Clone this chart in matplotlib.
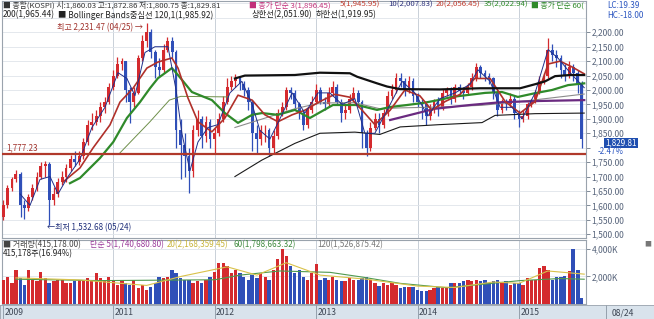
import numpy as np
import pandas as pd
import matplotlib
matplotlib.use('Agg')
import matplotlib.pyplot as plt
import matplotlib.dates as mdates
from matplotlib.ticker import FixedLocator, FuncFormatter

plt.rcParams['font.family'] = ['Noto Sans CJK KR', 'DejaVu Sans']

W, H = 654, 319

# ---------------- data (semi-monthly candles, KOSPI) ----------------
candle_start = '2009-12-01'
open_first = 1560
close = [1600, 1660, 1690, 1710, 1600, 1590, 1630, 1660, 1700, 1735,
         1745, 1620, 1640, 1680, 1700, 1730, 1760, 1750, 1770, 1820,
         1880, 1890, 1910, 1940, 1960, 2010, 2050, 2090, 2100, 2000,
         1960, 1990, 2110, 2170, 2200, 2130, 2080, 2070, 2140, 2170,
         2130, 1860, 1810, 1770, 1720, 1860, 1900, 1840, 1890, 1830,
         1850, 1900, 1960, 2010, 2030, 2040, 2020, 2000, 1960, 1850,
         1830, 1860, 1860, 1800, 1840, 1920, 1940, 2000, 1990, 1950,
         1920, 1880, 1930, 1960, 2000, 1960, 1950, 1990, 2010, 1960,
         1920, 1930, 1970, 1990, 1960, 1850, 1800, 1870, 1900, 1880,
         1920, 1980, 2000, 2040, 2030, 2000, 2030, 1980, 1960, 1950,
         1910, 1930, 1960, 1940, 1990, 2000, 1970, 2010, 1995, 1990,
         2010, 2040, 2080, 2060, 2050, 2040, 1990, 1930, 1960, 1950,
         1970, 1920, 1900, 1910, 1950, 1960, 1990, 2030, 2050, 2140,
         2120, 2110, 2070, 2050, 2080, 2060, 2020, 1830]
high = [1620, 1670, 1700, 1723, 1715, 1620, 1640, 1675, 1715, 1750,
        1755, 1750, 1665, 1695, 1720, 1745, 1775, 1790, 1790, 1835,
        1895, 1920, 1930, 1960, 1975, 2025, 2070, 2115, 2110, 2100,
        2010, 2010, 2120, 2190, 2231, 2210, 2140, 2110, 2160, 2185,
        2185, 2140, 1900, 1850, 1800, 1880, 1930, 1910, 1910, 1900,
        1870, 1920, 1980, 2040, 2050, 2055, 2050, 2030, 2010, 1965,
        1880, 1880, 1880, 1870, 1860, 1935, 1960, 2010, 2010, 2000,
        1960, 1930, 1940, 1980, 2020, 2010, 1975, 2010, 2030, 2020,
        1970, 1950, 1985, 2010, 2000, 1965, 1860, 1890, 1920, 1920,
        1935, 1995, 2020, 2060, 2060, 2040, 2050, 2040, 1990, 1970,
        1955, 1950, 1970, 1975, 2005, 2010, 2010, 2020, 2020, 2010,
        2025, 2060, 2093, 2085, 2070, 2060, 2045, 2000, 1970, 1970,
        1990, 1980, 1930, 1930, 1960, 1970, 2000, 2050, 2060, 2180,
        2160, 2140, 2120, 2090, 2100, 2090, 2070, 2030]
low = [1550, 1590, 1650, 1680, 1560, 1552, 1580, 1620, 1650, 1690,
       1700, 1533, 1600, 1630, 1670, 1680, 1720, 1735, 1740, 1760,
       1810, 1860, 1880, 1890, 1920, 1950, 2000, 2040, 2070, 1960,
       1886, 1940, 1985, 2100, 2150, 2110, 2040, 2050, 2060, 2130,
       2110, 1800, 1690, 1700, 1644, 1700, 1840, 1800, 1820, 1800,
       1780, 1840, 1890, 1950, 2000, 2010, 2000, 1980, 1930, 1790,
       1780, 1810, 1820, 1770, 1780, 1830, 1910, 1930, 1970, 1930,
       1900, 1860, 1870, 1920, 1950, 1950, 1930, 1940, 1980, 1950,
       1890, 1900, 1920, 1960, 1940, 1800, 1770, 1790, 1860, 1850,
       1870, 1910, 1970, 1990, 2010, 1980, 1990, 1960, 1940, 1900,
       1880, 1895, 1920, 1910, 1930, 1980, 1950, 1960, 1980, 1970,
       1985, 2000, 2030, 2040, 2030, 2020, 1970, 1910, 1920, 1930,
       1940, 1900, 1872, 1890, 1900, 1940, 1955, 1985, 2020, 2040,
       2100, 2080, 2040, 2030, 2040, 2030, 1990, 1800]
volume_k = [1760, 1980, 1550, 2480, 1870, 1400, 2480, 1760, 1640, 2360,
            1880, 1520, 1640, 1760, 1760, 1520, 1520, 1640, 1760, 1760,
            1880, 1760, 2240, 1880, 1760, 1980, 1760, 1400, 1640, 1520,
            1400, 1760, 1180, 1400, 1040, 1260, 1520, 1980, 1880, 1980,
            2480, 2240, 1880, 1760, 1760, 1520, 1640, 1520, 1760, 1980,
            2360, 3000, 3000, 2740, 2240, 2480, 2240, 1980, 1760, 2120,
            1880, 2240, 1980, 1760, 2480, 3240, 3960, 3480, 2740, 2240,
            2480, 1980, 1760, 2240, 2870, 1760, 1880, 1760, 1980, 1760,
            1640, 1640, 1880, 1760, 1760, 1880, 1980, 1760, 1520, 1280,
            1520, 1400, 1520, 1400, 1180, 1260, 1260, 1260, 1040, 920,
            920, 1040, 1180, 1260, 1180, 1260, 1520, 1520, 1520, 1640,
            1760, 1640, 1760, 1640, 1760, 1520, 1640, 1760, 1520, 1640,
            1400, 1520, 1520, 1400, 1880, 1760, 1760, 2600, 2740, 2480,
            1760, 1980, 1980, 2000, 2400, 4000, 2500, 420]

# moving-average / band lines
bb_upper_dates = ['2012-03-14', '2012-04-19', '2012-10-16', '2013-01-14', '2013-05-02',
                  '2013-05-28', '2013-08-08', '2013-09-13', '2013-10-30', '2014-03-22',
                  '2014-08-13', '2015-01-05', '2015-02-28', '2015-04-05', '2015-05-11',
                  '2015-07-04', '2015-08-24']
bb_upper_vals = [2040, 2050, 2052, 2060, 2058, 2046, 2023, 2012, 2003, 2002,
                 2006, 2006, 2020, 2030, 2048, 2052, 2052]
bb_lower_dates = ['2012-03-14', '2012-06-19', '2012-10-16', '2013-01-14', '2013-05-20',
                  '2013-08-18', '2013-10-30', '2014-03-22', '2014-08-21', '2014-10-07',
                  '2015-02-28', '2015-08-24']
bb_lower_vals = [1700, 1757, 1815, 1850, 1854, 1846, 1872, 1880, 1887, 1912, 1918, 1920]
bb_mid_dates = ['2012-03-14', '2012-10-16', '2013-01-14', '2013-05-20', '2013-08-18',
                '2013-10-30', '2014-03-22', '2014-08-21', '2015-01-05', '2015-04-05',
                '2015-08-24']
bb_mid_vals = [1870, 1935, 1955, 1956, 1935, 1938, 1941, 1947, 1960, 1970, 1986]

ma35_dates = ['2010-07-29', '2010-09-03', '2010-11-14', '2011-01-01', '2011-02-19',
              '2011-04-07', '2011-05-13', '2011-06-11', '2011-07-31', '2011-08-22',
              '2011-10-11', '2011-12-22', '2012-02-07', '2012-03-25', '2012-05-15',
              '2012-06-19', '2012-08-16', '2012-10-16', '2012-12-09', '2013-03-02',
              '2013-05-28', '2013-08-08', '2013-09-24', '2013-11-24', '2014-01-20',
              '2014-03-22', '2014-05-05', '2014-09-01', '2014-11-01', '2014-12-28',
              '2015-02-28', '2015-04-30', '2015-06-27', '2015-08-24']
ma35_vals = [1677, 1695, 1764, 1820, 1903, 1958, 2006, 2041, 2076, 2052,
             1993, 1965, 1920, 1886, 1914, 1920, 1914, 1931, 1903, 1948,
             1948, 1931, 1941, 1948, 1955, 1966, 1976, 1990, 1993, 1976,
             1989, 2000, 2017, 2023]

ma120_dates = ['2011-01-25', '2011-05-13', '2011-07-22', '2011-09-01', '2012-02-20']
ma120_vals = [1782, 1890, 1965, 1978, 1976]

ma200_dates = ['2013-09-24', '2014-03-04', '2014-07-09', '2014-11-01', '2015-03-18', '2015-08-24']
ma200_vals = [1896, 1935, 1948, 1958, 1962, 1965]

ma20_dates = ['2010-07-04', '2010-09-03', '2010-10-20', '2010-12-20', '2011-01-25',
              '2011-03-13', '2011-05-02', '2011-06-11', '2011-07-31', '2011-08-22',
              '2011-09-27', '2011-11-02', '2011-12-22', '2012-02-07', '2012-03-25',
              '2012-05-15', '2012-06-30', '2012-08-16', '2012-10-06', '2012-11-21',
              '2013-01-14', '2013-03-09', '2013-05-02', '2013-06-15', '2013-07-31',
              '2013-09-24', '2013-11-16', '2014-01-09', '2014-02-21', '2014-04-10',
              '2014-06-03', '2014-07-26', '2014-09-19', '2014-11-12', '2015-01-05',
              '2015-02-28', '2015-04-16', '2015-05-29', '2015-07-11', '2015-08-24']
ma20_vals = [1681, 1730, 1799, 1879, 1958, 2006, 2076, 2097, 2111, 2076,
             1972, 1890, 1855, 1903, 1982, 1965, 1914, 1890, 1914, 1930,
             1960, 1985, 1975, 1930, 1880, 1930, 2000, 1980, 1930, 1960,
             1985, 2040, 2040, 1960, 1920, 1960, 2090, 2100, 2080, 2056]

ma10_dates = ['2010-01-30', '2010-03-07', '2010-04-12', '2010-05-18', '2010-06-16',
              '2010-07-22', '2010-09-03', '2010-10-16', '2010-12-02', '2011-01-18',
              '2011-02-19', '2011-03-20', '2011-04-25', '2011-05-31', '2011-07-17',
              '2011-08-15', '2011-09-05', '2011-10-04', '2011-11-02', '2011-12-08',
              '2012-01-13', '2012-02-25', '2012-04-08', '2012-05-15', '2012-06-12',
              '2012-07-18', '2012-08-23', '2012-10-06', '2012-11-21', '2013-01-07',
              '2013-02-19', '2013-04-04', '2013-05-20', '2013-06-25', '2013-07-31',
              '2013-09-24', '2013-11-06', '2013-12-22', '2014-02-07', '2014-03-22',
              '2014-05-16', '2014-07-09', '2014-08-06', '2014-09-19', '2014-10-25',
              '2014-12-07', '2015-01-12', '2015-02-28', '2015-04-16', '2015-05-22',
              '2015-07-04', '2015-08-24']
ma10_vals = [1640, 1600, 1690, 1700, 1640, 1700, 1760, 1870, 1940, 2060,
             2040, 1980, 2130, 2150, 2150, 2000, 1850, 1720, 1820, 1870,
             1880, 1990, 2030, 1950, 1860, 1830, 1900, 1990, 1920, 1990,
             1990, 1950, 1970, 1850, 1850, 1950, 2030, 1990, 1910, 1970,
             1990, 2020, 2070, 2030, 1940, 1940, 1900, 1990, 2140, 2110,
             2060, 2008]

vol_ma60_dates = ['2010-01-15', '2010-11-14', '2012-01-01', '2012-04-02', '2012-08-23',
                  '2013-02-19', '2013-06-18', '2013-10-30', '2014-04-17', '2015-01-05',
                  '2015-05-29', '2015-08-24']
vol_ma60_vals = [1800, 1700, 1760, 2100, 2400, 2300, 1950, 1500, 1180, 1700, 1850, 1800]
vol_ma20_dates = ['2010-01-15', '2010-09-01', '2011-05-01', '2011-09-01', '2012-02-15',
                  '2012-06-01', '2012-09-15', '2013-01-15', '2013-07-01', '2014-01-01',
                  '2014-05-15', '2014-10-01', '2015-01-01', '2015-04-15', '2015-08-24']
vol_ma20_vals = [1900, 1750, 1350, 2000, 2700, 2100, 3000, 2100, 1800, 1300,
                 1200, 1600, 1500, 2400, 2170]

price_ticks = [1500, 1550, 1600, 1650, 1700, 1750, 1800, 1850, 1900, 1950,
               2000, 2050, 2100, 2150, 2200]
hidden_price_labels = [1800]
support_level = 1777.23
last_price = '1,829.81'
last_change = '-2.47%'
year_labels = ['2009', '2011', '2012', '2013', '2014', '2015']
year_label_dates = ['2009-12-01', '2011-01-01', '2012-01-01', '2013-01-01', '2014-01-01', '2015-01-01']

header_row1 = [('■ 종합(KOSPI) 시:1,860.03 고:1,872.86 저:1,800.75 종:1,829.81', '#333333', 3),
               ('■ 종가 단순 3(1,896.45)', '#c2307a', 249),
               ('5(1,945.95)', '#c0392b', 340),
               ('10(2,007.83)', '#2b2f7a', 388),
               ('20(2,056.45)', '#c0392b', 432),
               ('35(2,022.94)', '#2f8a2a', 475),
               ('■ 종가 단순 60(', '#2f8a2a', 522)]
header_row2 = [('200(1,965.44)', '#222222', 3),
               ('■ Bollinger Bands중심선 120,1(1,985.92)', '#222222', 57),
               ('상한선(2,051.90)', '#222222', 252),
               ('하한선(1,919.95)', '#222222', 297)]
volume_row1 = [('■ 거래량(415,178.00)', '#444444', 3),
               ('단순 5(1,740,680.80)', '#9a3a9a', 90),
               ('20(2,168,359.45)', '#c8b43a', 166),
               ('60(1,798,663.32)', '#3f8a3f', 233),
               ('120(1,526,875.42)', '#777777', 317)]

# ---------------- figure ----------------
fig = plt.figure(figsize=(W / 100, H / 100), dpi=100)
fig.patch.set_facecolor('white')
renderer = fig.canvas.get_renderer()


def rect(x0, y0, x1, y1):
    return [x0 / W, 1 - y1 / H, (x1 - x0) / W, (y1 - y0) / H]


def d2n(lst):
    return mdates.date2num(pd.to_datetime(lst).to_pydatetime())


base = mdates.date2num(pd.Timestamp('2011-01-01').to_pydatetime())
px_day = 3.6014
xlim = (base + (2 - 113.3) * px_day, base + (586 - 113.3) * px_day)

ax = fig.add_axes(rect(2, 1, 586, 238))
axv = fig.add_axes(rect(2, 240, 586, 304))
axb = fig.add_axes(rect(0, 305, 654, 319))

close_a = np.array(close, float)
high_a = np.array(high, float)
low_a = np.array(low, float)
opens = np.r_[open_first, close_a[:-1]]
dates = pd.date_range(candle_start, periods=len(close_a), freq='SMS')
xd = mdates.date2num(dates.to_pydatetime())
up = close_a >= opens
RED, BLUE = '#d42a2e', '#2f4fb8'
cols = np.where(up, RED, BLUE)

grid_c = '#dfe4ea'
year_lines = d2n(['2011-01-01', '2012-01-01', '2013-01-01', '2014-01-01', '2015-01-01'])

for a in (ax, axv):
    a.set_xlim(*xlim)
    a.set_facecolor('white')
    for xx in year_lines:
        a.axvline(xx, color='#c9d0d8', lw=0.7, zorder=0)
    a.tick_params(axis='x', which='both', bottom=False, labelbottom=False)
    for s in a.spines.values():
        s.set_color('#9aa3ad')
        s.set_linewidth(0.8)

# price panel
ax.set_ylim(1487, 2308.5)
for v in np.arange(1500, 2301, 50):
    ax.axhline(v, color=grid_c, lw=0.6, zorder=0)

ax.vlines(xd, low_a, high_a, colors=cols, lw=0.9, zorder=3)
body = np.maximum(np.abs(close_a - opens), 3)
ax.bar(xd, body, bottom=np.minimum(opens, close_a), width=10, color=cols, zorder=3, lw=0)

ax.plot(d2n(ma120_dates), ma120_vals, color='#6e8f4a', lw=0.7, zorder=4)
ax.plot(d2n(bb_mid_dates), bb_mid_vals, color='#8c8c8c', lw=0.8, zorder=4)
ax.plot(d2n(bb_lower_dates), bb_lower_vals, color='#1a1a1a', lw=0.8, zorder=4)
ax.plot(d2n(bb_upper_dates), bb_upper_vals, color='#111111', lw=1.6, zorder=5)
ax.plot(d2n(ma200_dates), ma200_vals, color='#6a2a80', lw=1.6, zorder=4)
ax.plot(d2n(ma35_dates), ma35_vals, color='#2f8a2a', lw=1.6, zorder=4)
ax.plot(d2n(ma20_dates), ma20_vals, color='#b0302a', lw=1.2, zorder=4)
ax.plot(d2n(ma10_dates), ma10_vals, color='#1f2f8a', lw=0.7, zorder=4)

ax.axhline(support_level, color='#b0392b', lw=1.6, zorder=6)
ax.text(xlim[0] + 4 * px_day, support_level + 8, f'{support_level:,.2f}',
        color='#a0302a', fontsize=5.8, va='bottom', ha='left', zorder=7)

i_hi = int(np.argmax(high_a))
i_lo = int(np.argmin(low_a))
ax.text(xd[i_hi] - 4 * px_day, 2215, '최고 2,231.47 (04/25) →',
        color='#a0302a', fontsize=5.8, ha='right', va='center', zorder=7)
ax.text(xd[i_lo] - 2 * px_day, 1522, '←최저 1,532.68 (05/24)',
        color='#1f2f7a', fontsize=5.8, ha='left', va='center', zorder=7)

ax.yaxis.tick_right()
ax.yaxis.set_major_locator(FixedLocator(price_ticks))
ax.yaxis.set_major_formatter(FuncFormatter(
    lambda v, p: '' if round(v) in hidden_price_labels else f'{v:,.2f}'))
ax.tick_params(axis='y', direction='out', length=3, width=0.6, color='#6b7787',
               labelsize=6.1, labelcolor='#56637a', pad=1)

# volume panel
axv.set_ylim(0, 4650)
for v in (2000, 4000):
    axv.axhline(v, color=grid_c, lw=0.6, zorder=0)
axv.bar(xd, volume_k, width=12, color=cols, lw=0, zorder=3)
axv.plot(d2n(vol_ma60_dates), vol_ma60_vals, color='#4f9a4f', lw=0.8, zorder=4)
axv.plot(d2n(vol_ma20_dates), vol_ma20_vals, color='#d9c24a', lw=0.8, zorder=4)
axv.yaxis.tick_right()
axv.yaxis.set_major_locator(FixedLocator([2000, 4000]))
axv.yaxis.set_major_formatter(FuncFormatter(lambda v, p: f'{v:,.0f}K'))
axv.tick_params(axis='y', direction='out', length=3, width=0.6, color='#6b7787',
                labelsize=6.1, labelcolor='#56637a', pad=1)

# bottom date band
axb.set_facecolor('#d9e3ec')
axb.set_xlim(0, W)
axb.set_ylim(0, 1)
axb.set_xticks([])
axb.set_yticks([])
for s in axb.spines.values():
    s.set_color('#9aa3ad')
    s.set_linewidth(0.6)
for lab, dt in zip(year_labels, year_label_dates):
    px = 113.3 + (d2n([dt])[0] - base) / px_day
    px = max(px, 2)
    axb.plot([px, px], [0, 1], color='#8a96a3', lw=0.6)
    axb.text(px + 1.5, 0.45, lab, fontsize=6.2, color='#3d4654', va='center', ha='left')
axb.plot([606, 606], [0, 1], color='#8a96a3', lw=0.6)
axb.text(612, 0.45, '08/24', fontsize=6.2, color='#3d4654', va='center', ha='left')


# header texts
def ftext(x, y, s, c, size=5.6, **kw):
    return fig.text(x / W, 1 - y / H, s, color=c, fontsize=size, va='center', ha='left', **kw)


def row(y, items, size):
    prev_end = -1e9
    for s, c, xr in items:
        x = max(xr, prev_end + 3)
        t = ftext(x, y, s, c, size=size)
        prev_end = x + t.get_window_extent(renderer).width


row(5, header_row1, 5.6)
row(15, header_row2, 6.0)
row(245, volume_row1, 5.8)
ftext(3, 254, '415,178주(16.94%)', '#222222', size=5.8)
ftext(607, 5, 'LC:19.39', '#2a55c0', size=5.8)
ftext(607, 15, 'HC:-18.00', '#2a55c0', size=5.8)

# current price box
fig.text(621 / W, 1 - 143 / H, last_price, color='white', fontsize=5.8, ha='center', va='center',
         bbox=dict(boxstyle='square,pad=0.1', fc='#1f4fb0', ec='none'))
ftext(598, 152, last_change, '#2a55c0', size=5.8)
fig.text(648 / W, 1 - 244 / H, '■', color='#777777', fontsize=5, ha='center', va='center')

fig.savefig('out.png', dpi=100, facecolor='white')
